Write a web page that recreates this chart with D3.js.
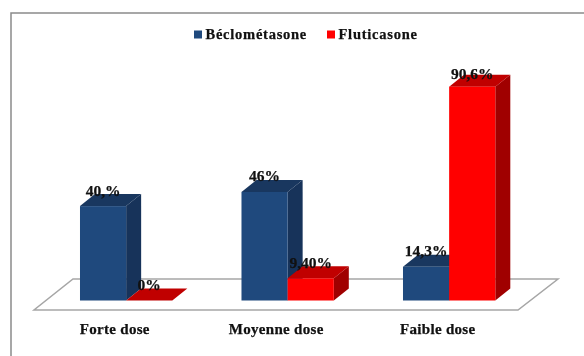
<!DOCTYPE html>
<html>
<head>
  <meta charset="utf-8">
  <title>Doses</title>
  <script src="https://d3js.org/d3.v7.min.js"></script>
  <style>
    html, body { margin: 0; padding: 0; background: #fff; overflow: hidden; }
    svg { display: block; filter: blur(0.6px); }
    text { font-family: "Liberation Serif", serif; font-weight: bold; fill: #111; stroke: #111; stroke-width: 0.25px; }
  </style>
</head>
<body>
<script>
    // Values
    var categories = ["Forte dose", "Moyenne dose", "Faible dose"]
    var series = ["Béclométasone", "Fluticasone"]
    var beclo = [40, 46, 14.3]
    var fluti = [0, 9.4, 90.6]
    var labelsBeclo = ["40,%", "46%", "14,3%"]
    var labelsFluti = ["0%", "9,40%", "90,6%"]

    var colors = {
        "Béclométasone": {front: "#1f497d", top: "#19375f", side: "#17335a"},
        "Fluticasone": {front: "#ff0000", top: "#c00000", side: "#a00000"}
    }

    var viz = {width: 584, height: 356, base: 300.5, dx: 15, dy: -12}

    var svg = d3.select("body").append("svg")
        .attr("width", viz.width)
        .attr("height", viz.height)

    // Outer frame, only its top and left edges fall inside the picture
    svg.append("rect")
        .attr("x", 11).attr("y", 13).attr("width", 620).attr("height", 360)
        .attr("fill", "#fff").attr("stroke", "#8a8a8a").attr("stroke-width", 1.5)

    var x = d3.scaleBand().domain(categories).range([38.5, 523]).paddingInner(0).paddingOuter(0)
    var inner = d3.scaleBand().domain(series).range([x.bandwidth() * 0.2569, x.bandwidth() * 0.8285])
    var y = d3.scaleLinear().domain([0, 100]).range([viz.base, viz.base - 236])

    // Floor of the 3D chart
    svg.append("path")
        .attr("d", "M34,310 L518,310 L558,279 L73,279 Z")
        .attr("fill", "#fff").attr("stroke", "#a6a6a6").attr("stroke-width", 1.5)

    var rows = []
    categories.forEach(function(c, i) {
        rows.push({cat: c, s: series[0], v: beclo[i], label: labelsBeclo[i]})
        rows.push({cat: c, s: series[1], v: fluti[i], label: labelsFluti[i]})
    })

    // Bars, left to right so the nearer series hides the side of the one before
    var bars = svg.selectAll("g.bar").data(rows).enter().append("g").attr("class", "bar")

    bars.append("path") // side
        .attr("fill", function(d) { return colors[d.s].side })
        .attr("d", function(d) {
            var x1 = x(d.cat) + inner(d.s) + inner.bandwidth()
            return "M" + x1 + "," + viz.base + " L" + (x1 + viz.dx) + "," + (viz.base + viz.dy) +
                " L" + (x1 + viz.dx) + "," + (y(d.v) + viz.dy) + " L" + x1 + "," + y(d.v) + " Z"
        })
    bars.append("path") // top
        .attr("fill", function(d) { return colors[d.s].top })
        .attr("d", function(d) {
            var x0 = x(d.cat) + inner(d.s), x1 = x0 + inner.bandwidth()
            return "M" + x0 + "," + y(d.v) + " L" + x1 + "," + y(d.v) +
                " L" + (x1 + viz.dx) + "," + (y(d.v) + viz.dy) + " L" + (x0 + viz.dx) + "," + (y(d.v) + viz.dy) + " Z"
        })
    bars.append("rect") // front
        .attr("x", function(d) { return x(d.cat) + inner(d.s) })
        .attr("y", function(d) { return y(d.v) })
        .attr("width", inner.bandwidth())
        .attr("height", function(d) { return viz.base - y(d.v) })
        .attr("fill", function(d) { return colors[d.s].front })

    // Value labels, the tall bar's label sits a bit lower on its top face
    svg.selectAll("text.val").data(rows).enter().append("text")
        .attr("class", "val")
        .attr("x", function(d) { return x(d.cat) + inner(d.s) + inner.bandwidth() / 2 })
        .attr("y", function(d) { return y(d.v) - (d.v > 80 ? 8 : 10.5) })
        .attr("text-anchor", "middle")
        .attr("font-size", 15.5)
        .text(function(d) { return d.label })

    // Category labels
    svg.selectAll("text.cat").data(categories).enter().append("text")
        .attr("class", "cat")
        .attr("x", function(d) { return x(d) + x.bandwidth() / 2 - 4.5 })
        .attr("y", 333.5)
        .attr("text-anchor", "middle")
        .attr("font-size", 15)
        .style("letter-spacing", "0.3px")
        .text(function(d) { return d })

    // Legend
    var legendX = d3.scaleOrdinal().domain(series).range([194, 327])
    svg.selectAll("rect.leg").data(series).enter().append("rect")
        .attr("class", "leg")
        .attr("x", function(d) { return legendX(d) }).attr("y", 30.5)
        .attr("width", 8).attr("height", 8)
        .attr("fill", function(d) { return colors[d].front })
    svg.selectAll("text.leg").data(series).enter().append("text")
        .attr("class", "leg")
        .attr("x", function(d) { return legendX(d) + 11.5 }).attr("y", 39)
        .attr("font-size", 14.5)
        .style("letter-spacing", "0.75px")
        .text(function(d) { return d })
</script>
</body>
</html>
